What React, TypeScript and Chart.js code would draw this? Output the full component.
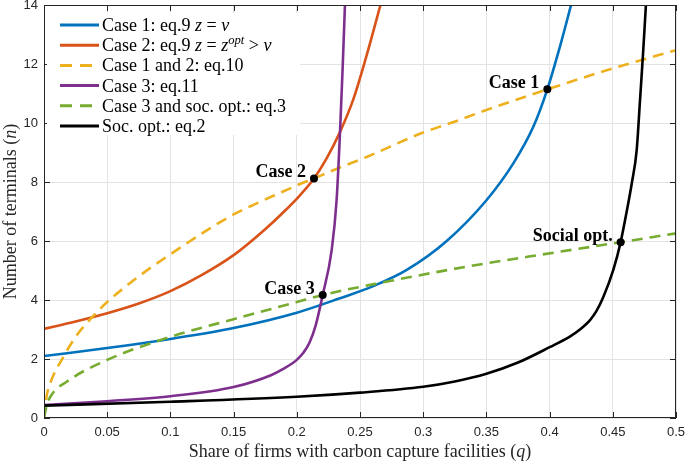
import { useEffect, useRef } from "react";
import { Chart, registerables } from "chart.js";

Chart.register(...registerables);

// ---------- data ----------
const xTickValues = [0, 0.05, 0.1, 0.15, 0.2, 0.25, 0.3, 0.35, 0.4, 0.45, 0.5];
const xTickLabels = ["0", "0.05", "0.1", "0.15", "0.2", "0.25", "0.3", "0.35", "0.4", "0.45", "0.5"];
const yTickValues = [0, 2, 4, 6, 8, 10, 12, 14];
const yTickLabels = ["0", "2", "4", "6", "8", "10", "12", "14"];

const case1Q = [0, 0.05, 0.1, 0.15, 0.2, 0.2342, 0.2605, 0.287, 0.3186, 0.3502, 0.3713, 0.3871, 0.3982, 0.4082, 0.417];
const case1N = [2.1, 2.37, 2.68, 3.05, 3.57, 4.06, 4.47, 5.02, 6.0, 7.39, 8.63, 9.87, 11.14, 12.59, 14];

const case2Q = [0, 0.025, 0.05, 0.075, 0.1, 0.125, 0.15, 0.175, 0.19, 0.2025, 0.2136, 0.2236, 0.2342, 0.2447, 0.2553, 0.2662];
const case2N = [3.02, 3.27, 3.55, 3.88, 4.3, 4.85, 5.52, 6.4, 7.0, 7.55, 8.12, 8.8, 9.7, 10.8, 12.3, 14];

const case12Q = [0, 0.002, 0.006, 0.014, 0.025, 0.036, 0.05, 0.075, 0.1, 0.134, 0.15, 0.167, 0.184, 0.2025, 0.2136, 0.2289, 0.2553, 0.3, 0.3212, 0.35, 0.3982, 0.45, 0.5];
const case12N = [0, 0.72, 1.3, 1.97, 2.75, 3.32, 3.93, 4.8, 5.55, 6.5, 6.9, 7.25, 7.58, 7.93, 8.12, 8.4, 8.85, 9.68, 9.99, 10.44, 11.14, 11.85, 12.47];

const case3Q = [0, 0.05, 0.1, 0.15, 0.18, 0.19, 0.2, 0.205, 0.21, 0.215, 0.2205, 0.2276, 0.2315, 0.2342, 0.2363, 0.2381];
const case3N = [0.44, 0.57, 0.74, 1.05, 1.46, 1.68, 1.97, 2.2, 2.55, 3.15, 4.17, 5.69, 7.39, 9.7, 11.9, 14];

const case3SocQ = [0, 0.002, 0.005, 0.018, 0.05, 0.1, 0.15, 0.2, 0.2205, 0.2684, 0.3344, 0.4056, 0.4562, 0.5];
const case3SocN = [0, 0.4, 0.72, 1.23, 1.97, 2.75, 3.35, 3.93, 4.17, 4.6, 5.13, 5.62, 5.96, 6.26];

const socQ = [0, 0.1, 0.2, 0.25, 0.3, 0.325, 0.35, 0.375, 0.4, 0.416, 0.424, 0.432, 0.437, 0.4425, 0.4504, 0.4562, 0.461, 0.465, 0.4689, 0.4715, 0.474, 0.4762];
const socN = [0.42, 0.55, 0.72, 0.86, 1.06, 1.24, 1.5, 1.88, 2.4, 2.76, 3.0, 3.32, 3.62, 4.1, 5.02, 5.96, 7.0, 7.95, 9.08, 10.75, 12.4, 14];

const markerQ = [0.3982, 0.2136, 0.2205, 0.4562];
const markerN = [11.14, 8.12, 4.17, 5.96];
const markerLabels = ["Case 1", "Case 2", "Case 3", "Social opt."];

type Run = { text: string; italic?: boolean; sup?: boolean };

const legendRuns: Run[][] = [
  [{ text: "Case 1: eq.9 " }, { text: "z", italic: true }, { text: " = " }, { text: "v", italic: true }],
  [
    { text: "Case 2: eq.9 " },
    { text: "z", italic: true },
    { text: " = " },
    { text: "z", italic: true },
    { text: "opt", italic: true, sup: true },
    { text: " > " },
    { text: "v", italic: true },
  ],
  [{ text: "Case 1 and 2: eq.10" }],
  [{ text: "Case 3: eq.11" }],
  [{ text: "Case 3 and soc. opt.: eq.3" }],
  [{ text: "Soc. opt.: eq.2" }],
];
const xTitleRuns: Run[] = [{ text: "Share of firms with carbon capture facilities (" }, { text: "q", italic: true }, { text: ")" }];
const yTitleRuns: Run[] = [{ text: "Number of terminals (" }, { text: "n", italic: true }, { text: ")" }];

const colors = ["#0072BD", "#D95319", "#EDB120", "#7E2F8E", "#77AC30", "#000000"];
const dashed = [false, false, true, false, true, false];

const SERIF = '"Liberation Serif", "Times New Roman", serif';
const SANS = '"Liberation Sans", Arial, sans-serif';

function pts(q: number[], n: number[]) {
  return q.map((v, i) => ({ x: v, y: n[i] }));
}

function runsWidth(ctx: CanvasRenderingContext2D, runs: Run[], size: number) {
  let w = 0;
  for (const r of runs) {
    const fs = r.sup ? size * 0.7 : size;
    ctx.font = `${r.italic ? "italic " : ""}${fs}px ${SERIF}`;
    w += ctx.measureText(r.text).width;
  }
  return w;
}

function drawRuns(ctx: CanvasRenderingContext2D, runs: Run[], x: number, y: number, size: number) {
  let cx = x;
  ctx.textAlign = "left";
  ctx.textBaseline = "alphabetic";
  for (const r of runs) {
    const fs = r.sup ? size * 0.7 : size;
    ctx.font = `${r.italic ? "italic " : ""}${fs}px ${SERIF}`;
    ctx.fillText(r.text, cx, r.sup ? y - size * 0.4 : y);
    cx += ctx.measureText(r.text).width;
  }
}

const decorPlugin = {
  id: "decor",
  afterDatasetsDraw(chart: any) {
    const { ctx, chartArea: ca, scales } = chart;
    const xs = scales.x;
    const ys = scales.y;
    ctx.save();

    // axes box
    ctx.strokeStyle = "#262626";
    ctx.lineWidth = 1;
    ctx.strokeRect(ca.left + 0.5, ca.top + 0.5, ca.right - ca.left - 1, ca.bottom - ca.top - 1);
    // inward ticks
    ctx.beginPath();
    for (const v of xTickValues) {
      const px = Math.round(xs.getPixelForValue(v)) + 0.5;
      ctx.moveTo(px, ca.bottom);
      ctx.lineTo(px, ca.bottom - 6);
      ctx.moveTo(px, ca.top);
      ctx.lineTo(px, ca.top + 6);
    }
    for (const v of yTickValues) {
      const py = Math.round(ys.getPixelForValue(v)) + 0.5;
      ctx.moveTo(ca.left, py);
      ctx.lineTo(ca.left + 6, py);
      ctx.moveTo(ca.right, py);
      ctx.lineTo(ca.right - 6, py);
    }
    ctx.stroke();

    // marker labels
    ctx.fillStyle = "#000";
    ctx.font = `bold 18px ${SERIF}`;
    ctx.textAlign = "right";
    ctx.textBaseline = "alphabetic";
    markerLabels.forEach((lab, i) => {
      const px = xs.getPixelForValue(markerQ[i]);
      const py = ys.getPixelForValue(markerN[i]);
      ctx.fillText(lab, px - 8, py - 1);
    });

    // legend
    const lx = ca.left + 3;
    const ly = ca.top + 8;
    ctx.fillStyle = "#ffffff";
    ctx.fillRect(lx, ly, 253, 122);
    legendRuns.forEach((runs, i) => {
      const y = ly + 12 + i * 20.2;
      ctx.strokeStyle = colors[i];
      ctx.lineWidth = 3;
      ctx.setLineDash(dashed[i] ? [12, 8] : []);
      ctx.beginPath();
      ctx.moveTo(lx + 13, y);
      ctx.lineTo(lx + 52, y);
      ctx.stroke();
      ctx.setLineDash([]);
      ctx.fillStyle = "#000";
      drawRuns(ctx, runs, lx + 55, y + 6, 18);
    });

    ctx.restore();
  },
  afterDraw(chart: any) {
    const { ctx, chartArea: ca } = chart;
    ctx.save();
    ctx.fillStyle = "#262626";
    // x title
    const wx = runsWidth(ctx, xTitleRuns, 18);
    drawRuns(ctx, xTitleRuns, (ca.left + ca.right) / 2 - wx / 2, 457, 18);
    // y title
    const wy = runsWidth(ctx, yTitleRuns, 18);
    ctx.translate(16, (ca.top + ca.bottom) / 2);
    ctx.rotate(-Math.PI / 2);
    drawRuns(ctx, yTitleRuns, -wy / 2, 0, 18);
    ctx.restore();
  },
};

export default function App() {
  const ref = useRef<HTMLCanvasElement>(null);
  useEffect(() => {
    document.body.style.margin = "0";
    const canvas = ref.current!;
    const series = [
      pts(case1Q, case1N),
      pts(case2Q, case2N),
      pts(case12Q, case12N),
      pts(case3Q, case3N),
      pts(case3SocQ, case3SocN),
      pts(socQ, socN),
    ];
    const datasets: any[] = series.map((d, i) => ({
      type: "line",
      data: d,
      borderColor: colors[i],
      backgroundColor: colors[i],
      borderWidth: 2.6,
      borderDash: dashed[i] ? [11, 7] : [],
      pointRadius: 0,
      fill: false,
      cubicInterpolationMode: "monotone",
      order: 10 - i,
    }));
    datasets.push({
      type: "scatter",
      data: pts(markerQ, markerN),
      backgroundColor: "#000",
      borderColor: "#000",
      pointRadius: 4,
      pointBorderWidth: 0,
      showLine: false,
      order: 0,
    });

    const chart = new Chart(canvas, {
      type: "line",
      data: { datasets },
      options: {
        responsive: false,
        animation: false,
        events: [],
        layout: { padding: { left: 0, right: 9, top: 5, bottom: 0 } },
        plugins: { legend: { display: false }, tooltip: { enabled: false } },
        scales: {
          x: {
            type: "linear",
            min: 0,
            max: 0.5,
            afterBuildTicks: (s: any) => {
              s.ticks = xTickValues.map((v) => ({ value: v }));
            },
            afterFit: (s: any) => {
              s.height = 43;
              s.paddingLeft = 0;
              s.paddingRight = 0;
            },
            ticks: {
              autoSkip: false,
              maxRotation: 0,
              padding: 7,
              color: "#262626",
              font: { family: SANS, size: 13 },
              callback: (_v: any, i: number) => xTickLabels[i],
            },
            grid: { color: "#e3e3e3", lineWidth: 1, drawTicks: false },
            border: { display: false },
          },
          y: {
            type: "linear",
            min: 0,
            max: 14,
            afterBuildTicks: (s: any) => {
              s.ticks = yTickValues.map((v) => ({ value: v }));
            },
            afterFit: (s: any) => {
              s.width = 44;
              s.paddingTop = 0;
              s.paddingBottom = 0;
            },
            ticks: {
              autoSkip: false,
              padding: 6,
              color: "#262626",
              font: { family: SANS, size: 13 },
              callback: (_v: any, i: number) => yTickLabels[i],
            },
            grid: { color: "#e3e3e3", lineWidth: 1, drawTicks: false },
            border: { display: false },
          },
        },
      },
      plugins: [decorPlugin],
    });
    return () => chart.destroy();
  }, []);
  return <canvas ref={ref} width={685} height={461} style={{ display: "block" }} />;
}
